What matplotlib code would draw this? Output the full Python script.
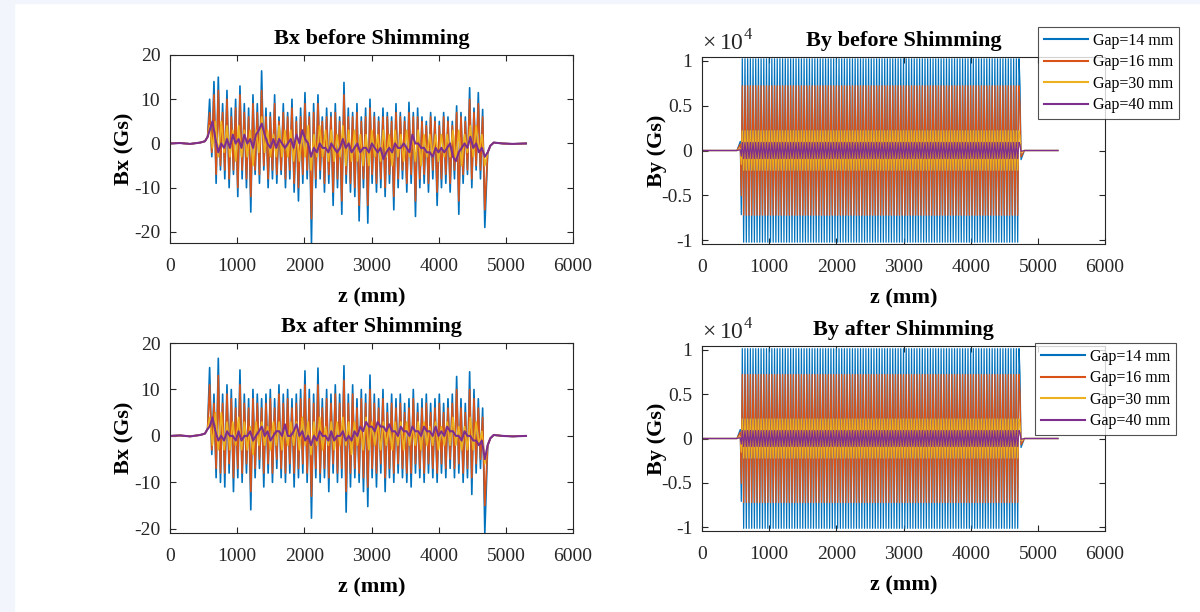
import numpy as np
import matplotlib.pyplot as plt
from matplotlib.ticker import FuncFormatter
from matplotlib.patches import Rectangle

plt.rcParams['font.family'] = ['Liberation Serif', 'DejaVu Serif']
plt.rcParams['axes.unicode_minus'] = False
plt.rcParams['mathtext.fontset'] = 'custom'
plt.rcParams['mathtext.rm'] = 'Liberation Serif'

# ---- data ----
gaps = ["Gap=14 mm", "Gap=16 mm", "Gap=30 mm", "Gap=40 mm"]
colors = ["#0072BD", "#D95319", "#EDB120", "#7E2F8E"]

# Bx samples along the undulator (alternating up/down peaks), Gs
bx_z_start, bx_z_end = 590, 4687
bx_lead_z = [0, 150, 300, 450, 520, 560]
bx_lead = [0, 0.1, -0.1, 0.2, 0.5, 1.5]
bx_tail_z = [4730, 4770, 4820, 4950, 5100, 5300]
bx_tail = [-2, -0.5, 0.2, 0, -0.1, 0]

bx14_before = [10, -3, 14, -9, 15, -6, 9, -8, 12, -10, 8, -7, 10, -12, 13, -8,
               9, -10, 8, -15.5, 11, -7, 9, -9, 16.4, -6, 8, -10, 7, -8, 11, -9,
               6, -7, 9, -10, 7, -8, 10, -11, 6, -13, 8, -9, 11.5, -8, 7, -22.5,
               9, -10, 11, -8, 6, -11, 8, -9, 7, -14, 9, -10, 6, -16, 13.8, -9,
               8, -11, 7, -12, 9, -17.5, 6, -10, 8, -18, 10, -9, 7, -11, 6, -10,
               8, -12, 7, -9, 6, -15, 9, -10, 7, -8, 6, -11, 9.3, -9, 7, -16.5,
               8, -10, 6, -9, 5, -11, 7, -8, 6, -14, 5, -10, 7, -9, 6, -11,
               5, -8, 8.5, -16, 7, -9, 6, -7, 12.6, -10, 8, -6, 11.5, -8, 7.7, -19]
bx16_before = [7, -2, 11, -7, 12, -5, 7, -6, 10, -8, 6, -6, 8, -10, 11, -6,
               7, -8, 6, -12, 9, -6, 7, -7, 12, -5, 6, -8, 6, -6, 9, -7,
               5, -6, 7, -8, 6, -6, 8, -9, 5, -10, 6, -7, 9, -6, 6, -17,
               7, -8, 9, -6, 5, -9, 6, -7, 6, -11, 7, -8, 5, -13, 11, -7,
               6, -9, 6, -10, 7, -14, 5, -8, 6, -14, 8, -7, 6, -9, 5, -8,
               6, -10, 6, -7, 5, -12, 7, -8, 6, -6, 5, -9, 7, -7, 6, -13,
               6, -8, 5, -7, 4, -9, 6, -6, 5, -11, 4, -8, 6, -7, 5, -9,
               4, -6, 7, -13, 6, -7, 5, -6, 10, -8, 7, -5, 9, -6, 6, -15]
bx30_before = [4, -1, 5, -3, 5, -2, 4, -3, 3, -4, 4, -3, 3, -3, 3, -5,
               3, -2, 6, -2, 3, -3, 2, -3, 4, -3, 3, -3, 3, -4, 2, -4,
               3, -3, 4, -6, 2, -3, 4, -3, 3, -4, 3, -4, 2, -3, 4, -5,
               3, -4, 3, -4, 2, -5, 2, -5, 3, -3, 2, -4, 3, -3, 2, -5,
               3, -3, 2, -4, 3, -3, 2, -4, 3, -5, 2, -3, 2, -3, 2, -4,
               2, -3, 2, -3, 3, -4, 3, -5, 2, -2, 4, -3, 4, -2, 2, -5]
bx40_before = [3, 5, 1, -2, 0, -1, 1, -1, 2, 0, 1, -1, 2, 0, 1, -1,
               2, 3, 4.5, 2, 0, -1, 1, -1, 1, 0, -1, 0, 1, -1, 2, 0,
               3, 1, 0, -3, -1, -2, 0, -1, -1, -2, 0, -1, -2, -1, 1, -1,
               0, -2, -1, 0, -2, -1, -1, -2, 0, -1, -2, -1, -3.5, -2, -1, -2,
               0, -1, -1, 0, -1, -2, 2, 0, 0, -1, -1, -2, -2, -3, -1, -2,
               -1, -2, -1, 0, -3, -4, -2, -1, 0, -1, 1.5, -1, 0, -2, -1, -3]

bx14_after = [14.7, -4, 9, -9, 16.7, -10, 9, -11, 11, -8, 10, -12, 8, -9, 14.2, -10,
              9, -8, 8, -15.9, 10, -9, 9, -7, 8, -11, 9, -8, 10, -10, 8, -7,
              11, -9, 9, -10, 10, -8, 8, -11, 9, -9, 10, -8, 14, -10, 10, -17.7,
              9, -9, 14.6, -10, 8, -9, 10, -12, 9, -8, 11, -10, 9, -9, 15.1, -16.4,
              9, -11, 11, -9, 8, -10, 10, -12, 9, -15.2, 13.1, -9, 9, -11, 8, -8,
              10, -12, 7, -9, 9, -10, 8, -8, 9, -9, 7, -10, 8, -11, 10, -8,
              7, -9, 8, -10, 9, -8, 7, -9, 8, -10, 9, -8, 7, -9, 8, -7,
              9, -9, 12.8, -8, 8, -10, 7, -9, 13.8, -12.6, 10, -8, 8, -7, 6, -20.9]
bx16_after = [11, -3, 7, -7, 13, -8, 7, -8, 9, -6, 8, -9, 6, -7, 11, -8,
              7, -6, 6, -12, 8, -7, 7, -5, 6, -8, 7, -6, 8, -8, 6, -5,
              9, -7, 7, -8, 8, -6, 6, -8, 7, -7, 8, -6, 11, -8, 8, -13,
              7, -7, 11, -8, 6, -7, 8, -9, 7, -6, 9, -8, 7, -7, 12, -12,
              7, -8, 9, -7, 6, -8, 8, -9, 7, -11, 10, -7, 7, -8, 6, -6,
              8, -9, 5, -7, 7, -8, 6, -6, 7, -7, 5, -8, 6, -8, 8, -6,
              5, -7, 6, -8, 7, -6, 5, -7, 6, -8, 7, -6, 5, -7, 6, -5,
              7, -7, 10, -6, 6, -8, 5, -7, 10, -9, 8, -6, 6, -5, 4, -15]
bx30_after = [4, -2, 5, -3, 5, -3, 3, -3, 3, -2, 4, -3, 3, -3, 2, -4,
              3, -2, 3, -2, 2, -3, 3, -2, 3, -3, 2, -2, 3, -2, 3, -3,
              4, -2, 3, -4, 3, -2, 4, -3, 2, -2, 3, -3, 3, -2, 4, -2,
              3, -4, 3, -2, 2, -3, 4, -3, 3, -2, 3, -3, 3, -2, 2, -3,
              3, -2, 3, -3, 3, -2, 2, -2, 3, -3, 3, -2, 2, -2, 3, -3,
              2, -2, 3, -2, 4, -2, 2, -3, 2, -3, 4, -3, 3, -2, 1, -6]
bx40_after = [2, 4, 1, -1, 0, -1, 1, 0, 0, -1, 1, -1, 0, 0, 1, -1,
              0, 1, 2, 0, 1, -1, 0, 1, 1, 0, 2.5, 0, 0, 1, 2.5, 0,
              1, -1, 0, -2, 0, -1, 1, 0, 0, -1, 1, -1, 0, 0, 1, -1,
              0, -1, 1, 0, 2, 1, 3, 2, 2, 1, 3, 2, 2, 1, 2.5, 1,
              1, 0, 2, 1, 1, 0, 2, 1, 1, 0, 2, 1, 1, 0, 2, 0,
              1, 0, 2, 1, 1, 0, 0, -1, 1, 0, 0, -1, -1, -2, -1, -5]

# By: peak field of each gap (Gs), pole layout of the undulator
by_peak_before = [10200, 7200, 2200, 900]
by_peak_after = [10100, 7200, 2200, 900]
by_half_period = 20.0
by_pole_start, by_pole_end = 600, 4720
by_entry_frac = [0.1, -0.7]
by_exit_frac = [0.7, -0.1]
z_min, z_max = 0, 5300


def bx_trace(vals):
    zm = np.linspace(bx_z_start, bx_z_end, len(vals))
    z = np.concatenate([bx_lead_z, zm, bx_tail_z])
    b = np.concatenate([bx_lead, vals, bx_tail])
    return z, b


def by_trace(peak):
    zp = np.arange(by_pole_start, by_pole_end + 1, by_half_period)
    sign = np.where(np.arange(len(zp)) % 2 == 0, 1.0, -1.0)
    z = np.concatenate([[z_min, 520], by_pole_start - by_half_period * np.array([1.5, 0.75]),
                        zp, by_pole_end + by_half_period * np.array([0.75, 1.5]), [4800, z_max]])
    b = np.concatenate([[0, 0], peak * np.array(by_entry_frac), peak * sign,
                        peak * np.array(by_exit_frac), [0, 0]])
    return z, b


fig = plt.figure(figsize=(12, 6.12), dpi=100)
fig.patches.append(Rectangle((0, 0), 14 / 1200, 1, transform=fig.transFigure,
                             color="#f2f5fc", zorder=-1))
fig.patches.append(Rectangle((0, 1 - 3 / 612), 1, 3 / 612, transform=fig.transFigure,
                             color="#f2f5fc", zorder=-1))

W = 403 / 1200
ax_bx1 = fig.add_axes([170 / 1200, 1 - 243 / 612, W, 188 / 612])
ax_by1 = fig.add_axes([702 / 1200, 1 - 244 / 612, W, 187 / 612])
ax_bx2 = fig.add_axes([170 / 1200, 1 - 533 / 612, W, 190 / 612])
ax_by2 = fig.add_axes([702 / 1200, 1 - 531 / 612, W, 185 / 612])

tick_kw = dict(direction="in", top=True, right=True, labelsize=14,
               colors="#262626", length=4, width=0.8)


def style(ax, title, ylabel, ypad):
    ax.set_title(title, fontsize=16, fontweight="bold", pad=8)
    ax.set_xlabel("z (mm)", fontsize=16, fontweight="bold", labelpad=9)
    ax.set_ylabel(ylabel, fontsize=16, fontweight="bold", labelpad=ypad)
    ax.set_xlim(0, 6000)
    ax.set_xticks([0, 1000, 2000, 3000, 4000, 5000, 6000])
    ax.tick_params(**tick_kw)
    ax.tick_params(axis="x", pad=11)
    ax.tick_params(axis="y", pad=7)
    for s in ax.spines.values():
        s.set_color("#262626")
        s.set_linewidth(0.8)


for ax, traces, title, ylim in [
        (ax_bx1, [bx14_before, bx16_before, bx30_before, bx40_before], "Bx before Shimming", (-22.5, 20)),
        (ax_bx2, [bx14_after, bx16_after, bx30_after, bx40_after], "Bx after Shimming", (-20.9, 20))]:
    for vals, c, lab, lw in zip(traces, colors, gaps, [1.2, 1.2, 1.2, 1.5]):
        z, b = bx_trace(vals)
        ax.plot(z, b, color=c, lw=lw, label=lab)
    ax.set_ylim(*ylim)
    ax.set_yticks([-20, -10, 0, 10, 20])
    style(ax, title, "Bx (Gs)", 0)

for ax, peaks, title, leg_top, leg_left in [
        (ax_by1, by_peak_before, "By before Shimming", 27, 1038),
        (ax_by2, by_peak_after, "By after Shimming", 343, 1035)]:
    for pk, c, lab in zip(peaks, colors, gaps):
        z, b = by_trace(pk)
        ax.plot(z, b, color=c, lw=0.9, label=lab)
    ax.set_ylim(-10400, 10400)
    ax.set_yticks([-10000, -5000, 0, 5000, 10000])
    ax.yaxis.set_major_formatter(FuncFormatter(lambda v, p: "%g" % (v / 1e4)))
    style(ax, title, "By (Gs)", -4)
    ax.text(0, 1.01, r"$\times\,10^{4}$", transform=ax.transAxes, fontsize=17,
            color="#262626", ha="left", va="bottom")
    leg = ax.legend(loc="upper left", bbox_to_anchor=(leg_left / 1200, 1 - leg_top / 612),
                    bbox_transform=fig.transFigure, fontsize=11.5, frameon=True,
                    fancybox=False, edgecolor="#262626", handlelength=2.8,
                    borderpad=0.35, labelspacing=0.35, handletextpad=0.3, borderaxespad=0)
    leg.get_frame().set_linewidth(0.8)
    for ln in leg.get_lines():
        ln.set_linewidth(1.5)

fig.savefig("out.png", dpi=100)
